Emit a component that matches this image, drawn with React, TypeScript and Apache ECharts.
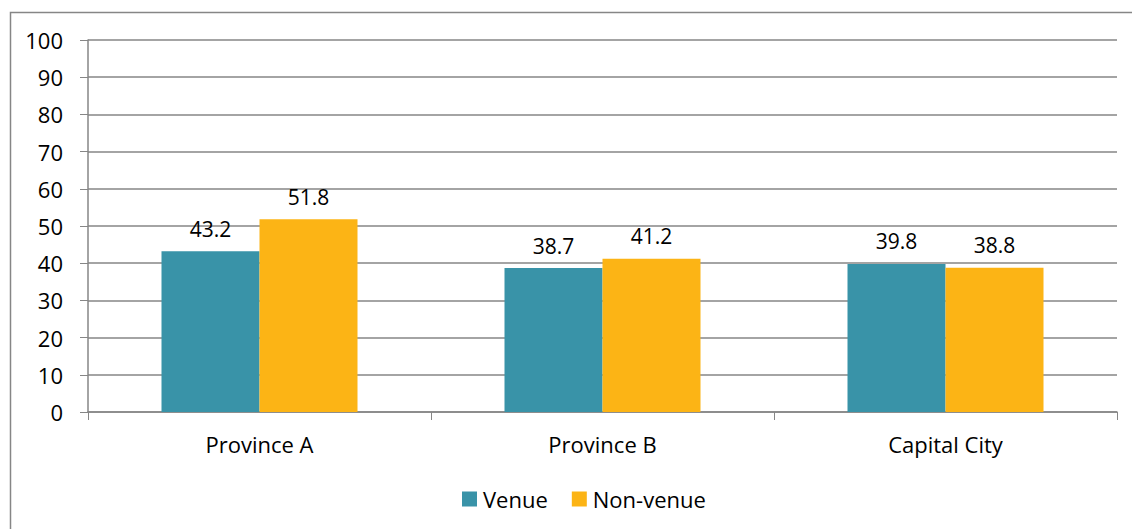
import React, { useEffect, useRef } from "react";
import * as echarts from "echarts";

const categories = ["Province A", "Province B", "Capital City"];
const venue = [43.2, 38.7, 39.8];
const nonVenue = [51.8, 41.2, 38.8];
const seriesNames = ["Venue", "Non-venue"];

const FONT = "'Open Sans', sans-serif";
const GRAY = "#868686";
const FS = 22;

export default function App() {
  const ref = useRef<HTMLDivElement>(null);
  useEffect(() => {
    if (!ref.current) return;
    const chart = echarts.init(ref.current, null, { renderer: "svg" });
    const label = {
      show: true,
      position: "top" as const,
      distance: 12,
      color: "#000",
      fontSize: FS - 1,
      fontFamily: FONT,
      formatter: (p: any) => p.value.toFixed(1),
    };
    chart.setOption({
      animation: false,
      backgroundColor: "#fff",
      graphic: [
        {
          type: "rect",
          shape: { x: 10.5, y: 12.5, width: 1200, height: 600 },
          style: { fill: "none", stroke: GRAY, lineWidth: 1.5 },
          silent: true,
        },
      ],
      grid: { left: 88, right: 15, top: 40, bottom: 117 },
      legend: {
        data: seriesNames,
        bottom: 14,
        left: 457,
        itemWidth: 15,
        itemHeight: 15,
        itemGap: 24,
        icon: "rect",
        textStyle: { fontSize: FS, fontFamily: FONT, color: "#000", padding: [0, 0, 0, 1] },
      },
      xAxis: {
        type: "category",
        data: categories,
        axisLine: { lineStyle: { color: GRAY, width: 1.5 } },
        axisTick: { show: true, length: 8, interval: 0, lineStyle: { color: GRAY } },
        axisLabel: { fontSize: FS, fontFamily: FONT, color: "#000", margin: 21 },
      },
      yAxis: {
        type: "value",
        min: 0,
        max: 100,
        interval: 10,
        axisLine: { show: true, lineStyle: { color: GRAY, width: 1.5 } },
        axisTick: { show: true, length: 8, lineStyle: { color: GRAY } },
        splitLine: { lineStyle: { color: GRAY, width: 1.5 } },
        axisLabel: { fontSize: FS, fontFamily: FONT, color: "#000", margin: 25 },
      },
      series: [
        {
          name: seriesNames[0],
          type: "bar",
          data: venue,
          barWidth: 98,
          barGap: "0%",
          itemStyle: { color: "#3993A8" },
          label,
        },
        {
          name: seriesNames[1],
          type: "bar",
          data: nonVenue,
          barWidth: 98,
          barGap: "0%",
          itemStyle: { color: "#FCB415" },
          label,
        },
      ],
    });
    return () => chart.dispose();
  }, []);
  return (
    <div
      ref={ref}
      style={{ position: "fixed", left: 0, top: 0, width: 1132, height: 529 }}
    />
  );
}
